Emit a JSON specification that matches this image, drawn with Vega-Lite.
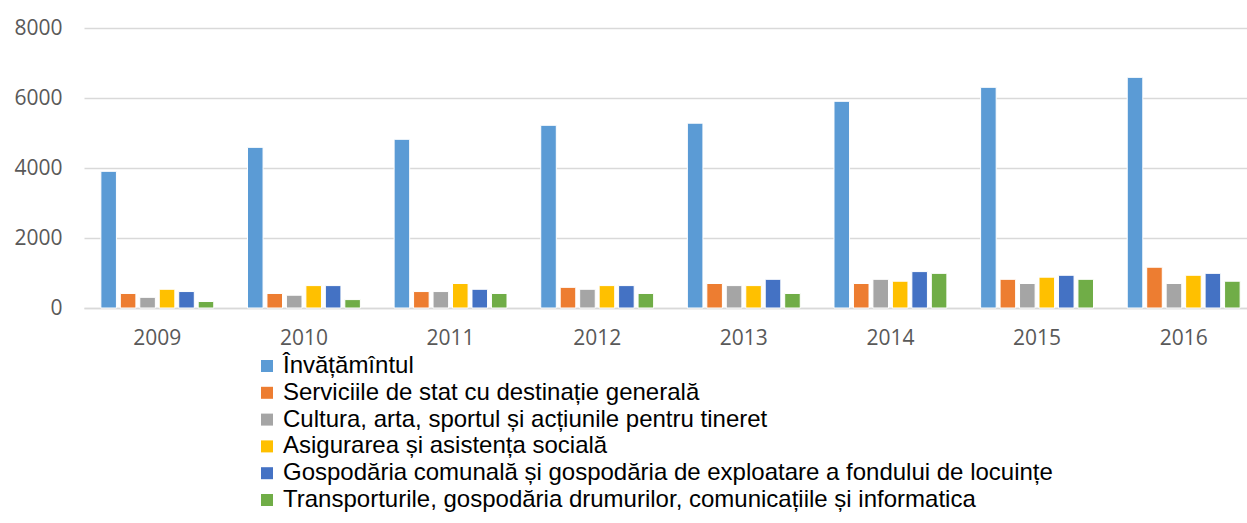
{
  "$schema": "https://vega.github.io/schema/vega-lite/v6.json",
  "width": 1163,
  "height": 280,
  "autosize": {"type": "none"},
  "padding": {"left": 84, "top": 28, "right": 0, "bottom": 215},
  "background": "white",
  "config": {
    "view": {"stroke": null},
    "axis": {"labelFont": "Open Sans", "labelColor": "#595959", "labelFontSize": 21, "title": null, "ticks": false}
  },
  "data": {
    "values": [
      {"year": "2009", "cat": "Învățămîntul", "value": 3905},
      {"year": "2009", "cat": "Serviciile de stat cu destinație generală", "value": 415},
      {"year": "2009", "cat": "Cultura, arta, sportul și acțiunile pentru tineret", "value": 305},
      {"year": "2009", "cat": "Asigurarea și asistența socială", "value": 535},
      {"year": "2009", "cat": "Gospodăria comunală și gospodăria de exploatare a fondului de locuințe", "value": 470},
      {"year": "2009", "cat": "Transporturile, gospodăria drumurilor, comunicațiile și informatica", "value": 185},
      {"year": "2010", "cat": "Învățămîntul", "value": 4590},
      {"year": "2010", "cat": "Serviciile de stat cu destinație generală", "value": 415},
      {"year": "2010", "cat": "Cultura, arta, sportul și acțiunile pentru tineret", "value": 365},
      {"year": "2010", "cat": "Asigurarea și asistența socială", "value": 640},
      {"year": "2010", "cat": "Gospodăria comunală și gospodăria de exploatare a fondului de locuințe", "value": 640},
      {"year": "2010", "cat": "Transporturile, gospodăria drumurilor, comunicațiile și informatica", "value": 240},
      {"year": "2011", "cat": "Învățămîntul", "value": 4820},
      {"year": "2011", "cat": "Serviciile de stat cu destinație generală", "value": 470},
      {"year": "2011", "cat": "Cultura, arta, sportul și acțiunile pentru tineret", "value": 470},
      {"year": "2011", "cat": "Asigurarea și asistența socială", "value": 700},
      {"year": "2011", "cat": "Gospodăria comunală și gospodăria de exploatare a fondului de locuințe", "value": 535},
      {"year": "2011", "cat": "Transporturile, gospodăria drumurilor, comunicațiile și informatica", "value": 415},
      {"year": "2012", "cat": "Învățămîntul", "value": 5220},
      {"year": "2012", "cat": "Serviciile de stat cu destinație generală", "value": 590},
      {"year": "2012", "cat": "Cultura, arta, sportul și acțiunile pentru tineret", "value": 535},
      {"year": "2012", "cat": "Asigurarea și asistența socială", "value": 640},
      {"year": "2012", "cat": "Gospodăria comunală și gospodăria de exploatare a fondului de locuințe", "value": 640},
      {"year": "2012", "cat": "Transporturile, gospodăria drumurilor, comunicațiile și informatica", "value": 415},
      {"year": "2013", "cat": "Învățămîntul", "value": 5280},
      {"year": "2013", "cat": "Serviciile de stat cu destinație generală", "value": 700},
      {"year": "2013", "cat": "Cultura, arta, sportul și acțiunile pentru tineret", "value": 640},
      {"year": "2013", "cat": "Asigurarea și asistența socială", "value": 640},
      {"year": "2013", "cat": "Gospodăria comunală și gospodăria de exploatare a fondului de locuințe", "value": 820},
      {"year": "2013", "cat": "Transporturile, gospodăria drumurilor, comunicațiile și informatica", "value": 415},
      {"year": "2014", "cat": "Învățămîntul", "value": 5905},
      {"year": "2014", "cat": "Serviciile de stat cu destinație generală", "value": 700},
      {"year": "2014", "cat": "Cultura, arta, sportul și acțiunile pentru tineret", "value": 820},
      {"year": "2014", "cat": "Asigurarea și asistența socială", "value": 765},
      {"year": "2014", "cat": "Gospodăria comunală și gospodăria de exploatare a fondului de locuințe", "value": 1040},
      {"year": "2014", "cat": "Transporturile, gospodăria drumurilor, comunicațiile și informatica", "value": 990},
      {"year": "2015", "cat": "Învățămîntul", "value": 6305},
      {"year": "2015", "cat": "Serviciile de stat cu destinație generală", "value": 820},
      {"year": "2015", "cat": "Cultura, arta, sportul și acțiunile pentru tineret", "value": 700},
      {"year": "2015", "cat": "Asigurarea și asistența socială", "value": 880},
      {"year": "2015", "cat": "Gospodăria comunală și gospodăria de exploatare a fondului de locuințe", "value": 935},
      {"year": "2015", "cat": "Transporturile, gospodăria drumurilor, comunicațiile și informatica", "value": 820},
      {"year": "2016", "cat": "Învățămîntul", "value": 6590},
      {"year": "2016", "cat": "Serviciile de stat cu destinație generală", "value": 1165},
      {"year": "2016", "cat": "Cultura, arta, sportul și acțiunile pentru tineret", "value": 700},
      {"year": "2016", "cat": "Asigurarea și asistența socială", "value": 935},
      {"year": "2016", "cat": "Gospodăria comunală și gospodăria de exploatare a fondului de locuințe", "value": 990},
      {"year": "2016", "cat": "Transporturile, gospodăria drumurilor, comunicațiile și informatica", "value": 765}
    ]
  },
  "mark": {"type": "bar", "stroke": "white", "strokeWidth": 1},
  "encoding": {
    "x": {
      "field": "year", "type": "nominal",
      "scale": {"paddingInner": 0.23, "paddingOuter": 0.115, "range": [0, 1173]},
      "axis": {"labelAngle": 0, "domainColor": "#d9d9d9", "domainWidth": 1.5, "labelPadding": 19, "grid": false}
    },
    "xOffset": {
      "field": "cat", "type": "nominal",
      "sort": ["Învățămîntul", "Serviciile de stat cu destinație generală", "Cultura, arta, sportul și acțiunile pentru tineret", "Asigurarea și asistența socială", "Gospodăria comunală și gospodăria de exploatare a fondului de locuințe", "Transporturile, gospodăria drumurilor, comunicațiile și informatica"],
      "scale": {"paddingInner": 0.2, "paddingOuter": 0}
    },
    "y": {
      "field": "value", "type": "quantitative",
      "scale": {"domain": [0, 8000], "nice": false},
      "axis": {"values": [0, 2000, 4000, 6000, 8000], "format": "d", "domain": false, "gridColor": "#d9d9d9", "gridWidth": 1.5, "labelPadding": 22}
    },
    "color": {
      "field": "cat", "type": "nominal",
      "scale": {
        "domain": ["Învățămîntul", "Serviciile de stat cu destinație generală", "Cultura, arta, sportul și acțiunile pentru tineret", "Asigurarea și asistența socială", "Gospodăria comunală și gospodăria de exploatare a fondului de locuințe", "Transporturile, gospodăria drumurilor, comunicațiile și informatica"],
        "range": ["#5B9BD5", "#ED7D31", "#A5A5A5", "#FFC000", "#4472C4", "#70AD47"]
      },
      "legend": {
        "title": null, "orient": "none", "legendX": 171, "legendY": 326, "padding": 0,
        "direction": "vertical", "columns": 1,
        "symbolType": "square", "symbolSize": 144, "symbolStrokeWidth": 0,
        "labelFont": "Liberation Sans", "labelFontSize": 24, "labelColor": "black",
        "labelLimit": 1200, "labelOffset": 4, "rowPadding": 2.8
      }
    }
  }
}
